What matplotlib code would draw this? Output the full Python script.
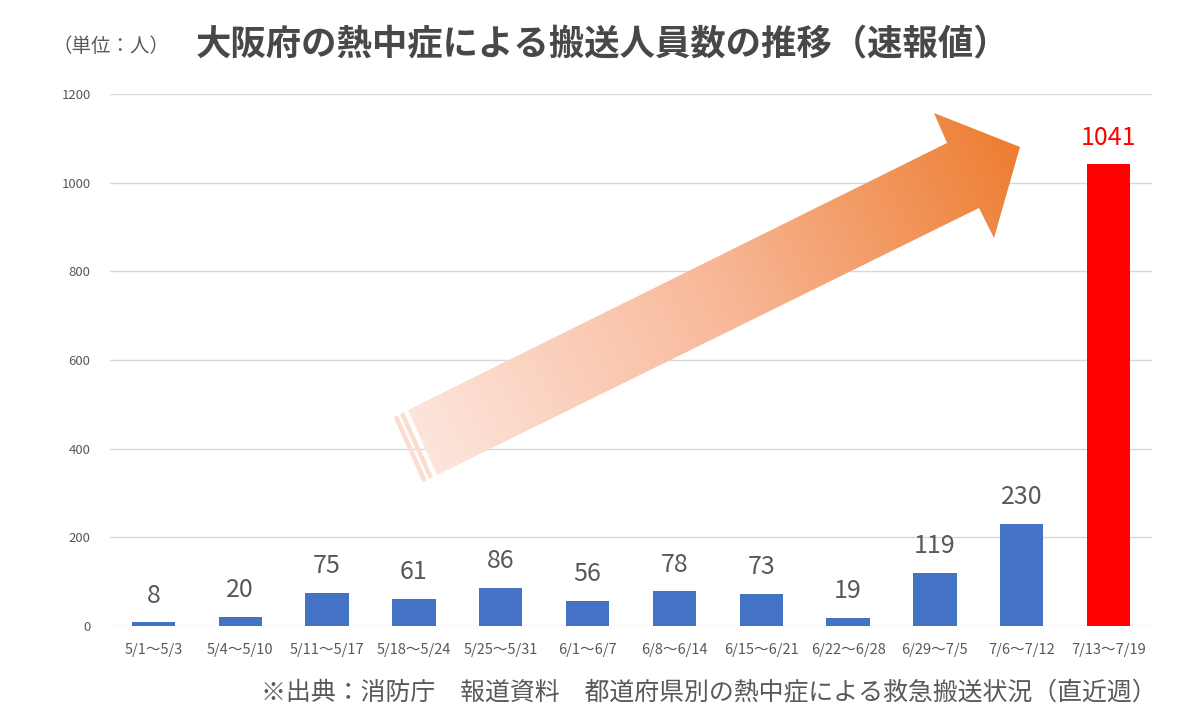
import numpy as np
import matplotlib
matplotlib.use("Agg")
import matplotlib.pyplot as plt
from matplotlib.patches import Polygon
from matplotlib.colors import LinearSegmentedColormap

plt.rcParams['font.family'] = ['Noto Sans CJK JP', 'DejaVu Sans']

categories = ["5/1～5/3", "5/4～5/10", "5/11～5/17", "5/18～5/24", "5/25～5/31",
              "6/1～6/7", "6/8～6/14", "6/15～6/21", "6/22～6/28", "6/29～7/5",
              "7/6～7/12", "7/13～7/19"]
values = [8, 20, 75, 61, 86, 56, 78, 73, 19, 119, 230, 1041]
yticks = [0, 200, 400, 600, 800, 1000, 1200]
title = "大阪府の熱中症による搬送人員数の推移（速報値）"
unit = "（単位：人）"
source = "※出典：消防庁　報道資料　都道府県別の熱中症による救急搬送状況（直近週）"

W, H = 1200, 727
fig = plt.figure(figsize=(12, 7.27), dpi=100)
ax = fig.add_axes([110 / W, 1 - 626 / H, 1042 / W, 532 / H])

x = np.arange(len(categories))
colors = ["#4472C4"] * (len(values) - 1) + ["#FF0000"]
label_colors = ["#595959"] * (len(values) - 1) + ["#FF0000"]
ax.bar(x, values, width=0.5, color=colors, zorder=3)
for xi, v, c in zip(x, values, label_colors):
    ax.annotate(str(v), (xi, v), xytext=(0, 10), textcoords="offset points",
                ha="center", va="bottom", fontsize=18, color=c)

ax.set_xlim(-0.5, len(categories) - 0.5)
ax.set_ylim(0, 1200)
ax.set_yticks(yticks)
ax.set_yticklabels([str(t) for t in yticks], fontsize=9.5, color="#595959")
ax.set_xticks(x)
ax.set_xticklabels(categories, fontsize=10.5, color="#595959")
ax.tick_params(axis="both", length=0)
ax.tick_params(axis="y", pad=14)
ax.tick_params(axis="x", pad=12)
ax.grid(axis="y", color="#D9D9D9", linewidth=1, zorder=0)
for s in ax.spines.values():
    s.set_visible(False)

fig.text(603 / W, 1 - 45 / H, title, ha="center", va="center", fontsize=25.5,
         fontweight="bold", color="#484848")
fig.text(52 / W, 1 - 47 / H, unit, ha="left", va="center", fontsize=14, color="#595959")
fig.text(1157 / W, 1 - 693 / H, source, ha="right", va="center", fontsize=17.95, color="#595959")

# decorative gradient arrow, drawn in figure pixel space
ov = fig.add_axes([0, 0, 1, 1], zorder=5)
ov.set_xlim(0, W)
ov.set_ylim(H, 0)
ov.axis("off")
ov.patch.set_alpha(0)

arrow_pts = [(408, 410), (947, 143), (934, 113), (1020, 147), (994, 238),
             (979, 208), (437, 475)]
cmap = LinearSegmentedColormap.from_list("arr", ["#FDE5DC", "#F8B898", "#ED7D31"])
tail = np.array([422.0, 443.0])
tip = np.array([1020.0, 147.0])
u = (tip - tail) / np.linalg.norm(tip - tail)
L = np.linalg.norm(tip - tail)
gx, gy = np.meshgrid(np.arange(370, 1040), np.arange(100, 500))
t = ((gx - tail[0]) * u[0] + (gy - tail[1]) * u[1]) / L
t = np.clip(t, 0, 1)
img = ov.imshow(t, cmap=cmap, extent=(370, 1040, 500, 100), origin="upper",
                vmin=0, vmax=1, aspect="auto", interpolation="bilinear")
poly = Polygon(arrow_pts, closed=True, facecolor="none", edgecolor="none",
               transform=ov.transData)
ov.add_patch(poly)
img.set_clip_path(poly)

# tail stripes
e0 = np.array([408.0, 410.0])
e1 = np.array([437.0, 475.0])
for s0, s1 in [(4.5, 9.0), (11.5, 16.0)]:
    pts = [e0 - u * s0, e1 - u * s0, e1 - u * s1, e0 - u * s1]
    ov.add_patch(Polygon(pts, closed=True, facecolor="#FBDCD0", edgecolor="none"))

fig.savefig("out.png", dpi=100)
